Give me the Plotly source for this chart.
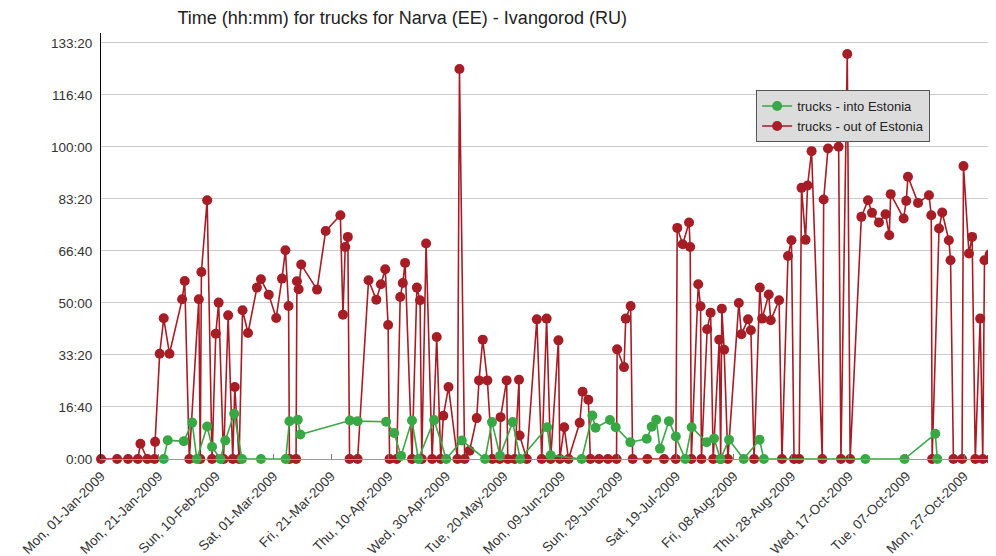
import plotly.graph_objects as go

# x = days since 01-Jan-2009, y = minutes
tick_days = [0, 20, 40, 60, 80, 100, 120, 140, 160, 180, 200, 220, 240, 260, 280, 300]
tick_labels = ["Mon, 01-Jan-2009", "Mon, 21-Jan-2009", "Sun, 10-Feb-2009", "Sat, 01-Mar-2009",
               "Fri, 21-Mar-2009", "Thu, 10-Apr-2009", "Wed, 30-Apr-2009", "Tue, 20-May-2009",
               "Mon, 09-Jun-2009", "Sun, 29-Jun-2009", "Sat, 19-Jul-2009", "Fri, 08-Aug-2009",
               "Thu, 28-Aug-2009", "Wed, 17-Oct-2009", "Tue, 07-Oct-2009", "Mon, 27-Oct-2009"]

y_ticks = [0, 1000, 2000, 3000, 4000, 5000, 6000, 7000, 8000]
y_labels = ["0:00", "16:40", "33:20", "50:00", "66:40", "83:20", "100:00", "116:40", "133:20"]

out_days = [0, 5.6, 9.4, 12.8, 13.7, 16.1, 18.6, 18.8, 20.4, 21.8, 23.8, 28.2, 29.1, 30.7,
            34.0, 34.5, 34.9, 36.9, 38.6, 39.9, 40.9, 42.6, 44.2, 45.8, 46.5, 48.0, 49.2, 51.1,
            54.2, 55.6, 58.3, 60.9, 62.9, 64.1, 65.2, 65.5, 67.8, 68.1, 68.7, 69.6, 75.1, 78.1,
            83.2, 84.1, 84.9, 85.8, 86.4, 89.2, 93.0, 95.7, 97.3, 98.8, 99.8, 100.3, 102.8,
            104.0, 104.9, 105.7, 108.1, 109.8, 110.9, 111.5, 113.0, 115.1, 116.7, 118.1, 119.0,
            120.8, 123.9, 124.6, 126.4, 128.1, 130.6, 131.4, 132.7, 134.3, 136.0, 138.6, 138.9,
            141.0, 141.4, 143.8, 145.3, 145.5, 148.0, 151.5, 153.2, 154.9, 156.3, 159.0, 159.5,
            161.0, 162.5, 166.4, 167.4, 169.4, 170.1, 173.1, 176.2, 179.2, 179.4, 181.8, 182.4,
            184.1, 184.8, 189.9, 195.7, 199.8, 200.3, 202.2, 204.4, 204.8, 205.2, 207.6, 208.4,
            208.7, 210.7, 211.9, 212.8, 214.9, 215.4, 215.8, 216.6, 217.9, 221.7, 222.6, 224.9,
            225.9, 227.0, 229.0, 229.8, 232.1, 232.8, 235.7, 236.7, 238.8, 240.0, 240.9, 242.7,
            243.5, 244.9, 245.6, 247.0, 250.7, 251.2, 252.7, 256.4, 257.2, 259.4, 260.4, 264.3,
            266.6, 268.0, 270.4, 272.7, 274.0, 274.5, 279.0, 279.9, 280.5, 284.0, 287.8, 288.6,
            288.9, 291.3, 292.4, 294.7, 295.3, 296.3, 299.3, 299.8, 301.7, 302.8, 303.9, 305.6,
            306.5, 307.1, 308.9, 309.2]
out_vals = [0, 0, 0, 0, 293, 0, 0, 330, 2025, 2705, 2025, 3070, 3423, 0,
            3070, 0, 3596, 4976, 0, 2410, 3007, 0, 2762, 0, 1383, 0, 2859, 2422,
            3295, 3455, 3160, 2711, 3468, 4014, 2942, 0, 0, 3417, 3263, 3738, 3257, 4385,
            4687, 2775, 4077, 4270, 0, 0, 3436, 3064, 3359, 3648, 2576, 0, 0,
            3115, 3385, 3770, 0, 3295, 3051, 0, 4142, 0, 2345, 0, 830,
            1383, 0, 7498, 0, 157, 786, 1511, 2295, 1511, 0, 0, 805,
            1511, 0, 0, 1524, 452, 0, 2685, 0, 2699, 0, 2281, 0,
            612, 0, 697, 1293, 1140, 0, 0, 0, 0, 2108, 1767, 2699,
            2942, 0, 0, 0, 0, 4443, 4129, 4547, 4077, 0, 3359, 2936,
            0, 2493, 2814, 0, 2295, 0, 2891, 2102, 0, 2999, 2397, 2685,
            2474, 0, 3295, 2699, 3161, 2666, 3051, 0, 3904, 4206, 0, 0,
            5213, 4213, 5259, 5919, 0, 4990, 5971, 6002, 0, 7786, 0, 4655,
            4976, 4732, 4547, 4707, 4302, 5092, 4624, 4963, 5425, 4924, 5072, 4687,
            0, 4431, 4739, 4206, 3821, 0, 0, 5631, 3950, 4270, 0, 2699,
            0, 3821, 3937, 0]

in_days = [21.8, 23.2, 28.8, 31.7, 33.3, 36.9, 38.6, 41.5, 43.2, 46.3, 49.0, 55.6, 64.2,
           65.5, 68.4, 69.3, 86.5, 89.2, 99.1, 101.9, 104.3, 108.1, 110.3, 115.8, 120.0,
           125.4, 133.5, 135.9, 138.7, 143.1, 145.7, 155.1, 156.3, 167.1, 170.8, 171.9,
           176.9, 178.9, 184.0, 189.7, 191.4, 193.0, 194.3, 197.4, 199.8, 203.1, 205.3,
           210.5, 213.1, 215.3, 218.3, 223.4, 228.9, 230.4, 265.7, 279.3, 290.0, 290.7]
in_vals = [0, 359, 343, 700, 0, 626, 234, 0, 356, 870, 0, 0, 0,
           725, 754, 472, 741, 728, 715, 500, 60, 741, 0, 748, 0,
           356, 0, 709, 60, 709, 0, 612, 70, 0, 837, 600,
           750, 612, 323, 389, 620, 754, 200, 728, 433, 0, 612,
           323, 395, 0, 369, 0, 372, 0, 0, 0, 485, 0]

RED = "#a71d25"
GREEN = "#38a845"
FONT = "Liberation Sans"

fig = go.Figure()
fig.add_trace(go.Scatter(x=out_days, y=out_vals, mode="lines+markers", name="trucks - out of Estonia",
                         line=dict(color=RED, width=1.6), marker=dict(color=RED, size=10),
                         cliponaxis=False))
fig.add_trace(go.Scatter(x=in_days, y=in_vals, mode="lines+markers", name="trucks - into Estonia",
                         line=dict(color=GREEN, width=1.6), marker=dict(color=GREEN, size=10),
                         cliponaxis=False))

# page has an 8px body margin, so the figure is 988x548 placed at (8, 8)
fig.update_layout(
    width=988, height=548,
    margin=dict(l=93, r=0, t=25, b=97, autoexpand=False),
    paper_bgcolor="white", plot_bgcolor="white",
    font=dict(family=FONT, size=13, color="#333333"),
    title=dict(text="Time (hh:mm) for trucks for Narva (EE) - Ivangorod (RU)",
               x=0.399, xref="container", xanchor="center",
               y=0.982, yref="container", yanchor="middle",
               font=dict(family=FONT, size=18, color="#222222")),
    showlegend=True,
    legend=dict(x=0.732, y=0.866, xanchor="left", yanchor="top",
                bgcolor="#dcdcdc", bordercolor="#555555", borderwidth=1,
                traceorder="reversed", font=dict(family=FONT, size=13, color="#222222"),
                itemwidth=30, tracegroupgap=0),
)
fig.update_xaxes(range=[0, 311.1], tickmode="array", tickvals=tick_days, ticktext=tick_labels,
                 tickangle=-45, showgrid=False, zeroline=False, showline=True, automargin=False,
                 linecolor="#999999", linewidth=1, ticks="inside", ticklen=5,
                 tickcolor="#777777", ticklabelstandoff=3,
                 tickfont=dict(family=FONT, size=13.5, color="#333333"))
fig.update_yaxes(range=[0, 8190], tickmode="array", tickvals=y_ticks, ticktext=y_labels,
                 showgrid=True, gridcolor="#cccccc", gridwidth=1, zeroline=False, automargin=False,
                 showline=True, linecolor="#000000", linewidth=1, ticks="", ticklabelstandoff=5,
                 tickfont=dict(family=FONT, size=13.5, color="#333333"))

fig.write_html("out.html")
